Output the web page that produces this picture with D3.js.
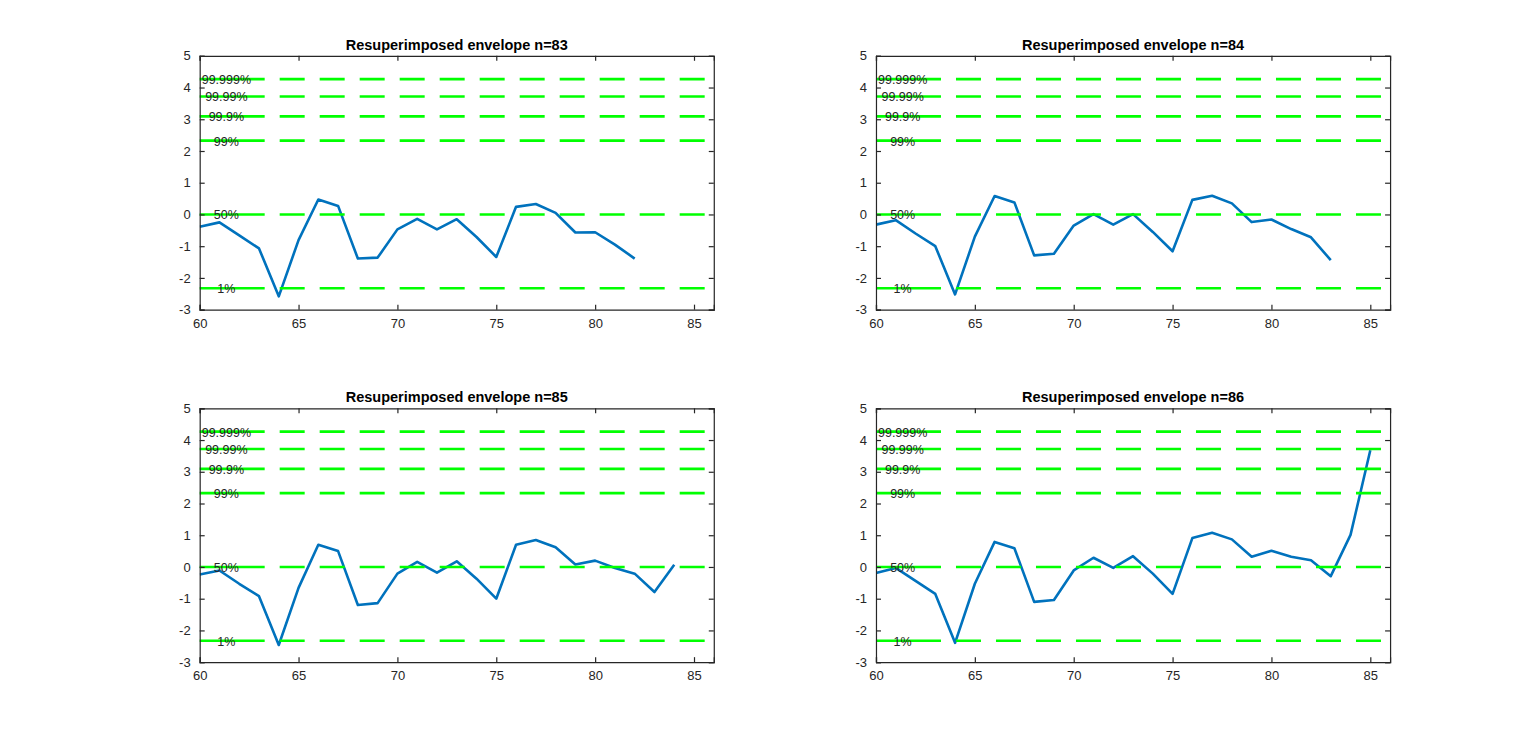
<!DOCTYPE html>
<html>
<head>
<meta charset="utf-8">
<script src="https://cdn.jsdelivr.net/npm/d3@7"></script>
<style>
    html, body { margin: 0; padding: 0; background: #ffffff; }
    svg { display: block; }
</style>
</head>
<body>
<div id="chart"></div>
<script>
// envelope values, x runs from 60 upward
const xStart = 60;
const env83 = [-0.39, -0.25, -0.66, -1.07, -2.58, -0.81, 0.47, 0.27, -1.39, -1.36, -0.47, -0.14, -0.47, -0.15, -0.71, -1.34, 0.24, 0.33, 0.05, -0.57, -0.56, -0.95, -1.39];
const env84 = [-0.32, -0.18, -0.60, -1.00, -2.52, -0.70, 0.58, 0.38, -1.29, -1.24, -0.35, 0.01, -0.32, 0.01, -0.55, -1.16, 0.46, 0.59, 0.35, -0.24, -0.16, -0.46, -0.72, -1.44];
const env85 = [-0.24, -0.11, -0.53, -0.92, -2.46, -0.66, 0.70, 0.50, -1.20, -1.14, -0.21, 0.16, -0.18, 0.18, -0.37, -1.00, 0.70, 0.85, 0.62, 0.08, 0.20, -0.03, -0.21, -0.79, 0.07];
const env86 = [-0.19, -0.03, -0.44, -0.85, -2.39, -0.53, 0.79, 0.59, -1.10, -1.04, -0.11, 0.29, -0.03, 0.34, -0.21, -0.85, 0.91, 1.08, 0.87, 0.32, 0.51, 0.32, 0.21, -0.29, 1.01, 3.68];

const panelN = [83, 84, 85, 86];
const panelSeries = [env83, env84, env85, env86];

// percentile thresholds (normal quantiles)
const pctLabels = ['99.999%', '99.99%', '99.9%', '99%', '50%', '1%'];
const pctZ = [4.265, 3.719, 3.090, 2.326, 0, -2.326];

const xDomain = [60, 86];
const yDomain = [-3, 5];
const xTicks = [60, 65, 70, 75, 80, 85];
const yTicks = [-3, -2, -1, 0, 1, 2, 3, 4, 5];

function main() {
    const figW = 1536, figH = 744;
    const svg = d3.select('#chart').append('svg')
        .attr('width', figW)
        .attr('height', figH);

    // subplot(2,2,k) positions in figure fractions
    const lefts = [0.13, 0.5703];
    const bottoms = [0.5838, 0.11];
    const axW = 0.3347 * figW;
    const axH = 0.3412 * figH;

    panelN.forEach((n, i) => {
        const col = i % 2, row = Math.floor(i / 2);
        const x0 = lefts[col] * figW;
        const y0 = figH - bottoms[row] * figH - axH;
        drawPanel(svg, x0, y0, axW, axH, n, panelSeries[i]);
    });
}

function drawPanel(svg, left, top, width, height, n, values) {
    const g = svg.append('g')
        .attr('transform', `translate(${left},${top})`);

    const xScale = d3.scaleLinear().domain(xDomain).range([0, width]);
    const yScale = d3.scaleLinear().domain(yDomain).range([height, 0]);

    const clipId = 'clip' + n;
    g.append('clipPath').attr('id', clipId)
        .append('rect').attr('width', width).attr('height', height);

    const data = values.map((v, k) => ({x: xStart + k, y: v}));

    const line = d3.line()
        .x(d => xScale(d.x))
        .y(d => yScale(d.y));

    g.append('path')
        .datum(data)
        .attr('clip-path', `url(#${clipId})`)
        .attr('fill', 'none')
        .attr('stroke', '#0072BD')
        .attr('stroke-width', 2.6)
        .attr('stroke-linejoin', 'round')
        .attr('d', line);

    // dash pattern: a long first dash, then regular dashes
    let dashes = [65, 15];
    for (let k = 0; k < 20; k++) dashes.push(25, 15);

    g.selectAll('.pct-line')
        .data(pctZ)
        .enter()
        .append('line')
        .attr('class', 'pct-line')
        .attr('x1', xScale(xDomain[0]))
        .attr('x2', xScale(xDomain[1]))
        .attr('y1', d => yScale(d))
        .attr('y2', d => yScale(d))
        .attr('stroke', '#00ff00')
        .attr('stroke-width', 2.6)
        .attr('stroke-dasharray', dashes.join(','));

    g.selectAll('.pct-label')
        .data(pctZ)
        .enter()
        .append('text')
        .attr('class', 'pct-label')
        .attr('x', xScale(61.35))
        .attr('y', d => yScale(d) + 1)
        .attr('text-anchor', 'middle')
        .attr('dominant-baseline', 'central')
        .attr('fill', '#262626')
        .style('font-family', 'Liberation Sans, Arial, sans-serif')
        .style('font-size', '12.5px')
        .text((d, k) => pctLabels[k]);

    // axes box with inward ticks on all four sides
    const axisColor = '#262626';
    const tickLen = 5;

    const xAxisBottom = g.append('g')
        .attr('transform', `translate(0,${height})`)
        .call(d3.axisBottom(xScale).tickValues(xTicks).tickSize(-tickLen).tickPadding(tickLen + 4));
    const xAxisTop = g.append('g')
        .call(d3.axisTop(xScale).tickValues(xTicks).tickSize(-tickLen).tickFormat(''));
    const yAxisLeft = g.append('g')
        .call(d3.axisLeft(yScale).tickValues(yTicks).tickSize(-tickLen).tickPadding(tickLen + 4));
    const yAxisRight = g.append('g')
        .attr('transform', `translate(${width},0)`)
        .call(d3.axisRight(yScale).tickValues(yTicks).tickSize(-tickLen).tickFormat(''));

    [xAxisBottom, xAxisTop, yAxisLeft, yAxisRight].forEach(ax => {
        ax.select('.domain').attr('stroke', axisColor).attr('stroke-width', 1.2);
        ax.selectAll('.tick line').attr('stroke', axisColor).attr('stroke-width', 1.2);
        ax.selectAll('text')
            .attr('fill', axisColor)
            .style('font-family', 'Liberation Sans, Arial, sans-serif')
            .style('font-size', '13px');
    });
    yAxisLeft.selectAll('text').text(d => d < 0 ? '-' + Math.abs(d) : d);

    g.append('text')
        .attr('x', width / 2)
        .attr('y', -6)
        .attr('text-anchor', 'middle')
        .attr('fill', '#000000')
        .style('font-family', 'Liberation Sans, Arial, sans-serif')
        .style('font-size', '14.5px')
        .style('font-weight', 'bold')
        .text('Resuperimposed envelope n=' + n);
}

main();
</script>
</body>
</html>
